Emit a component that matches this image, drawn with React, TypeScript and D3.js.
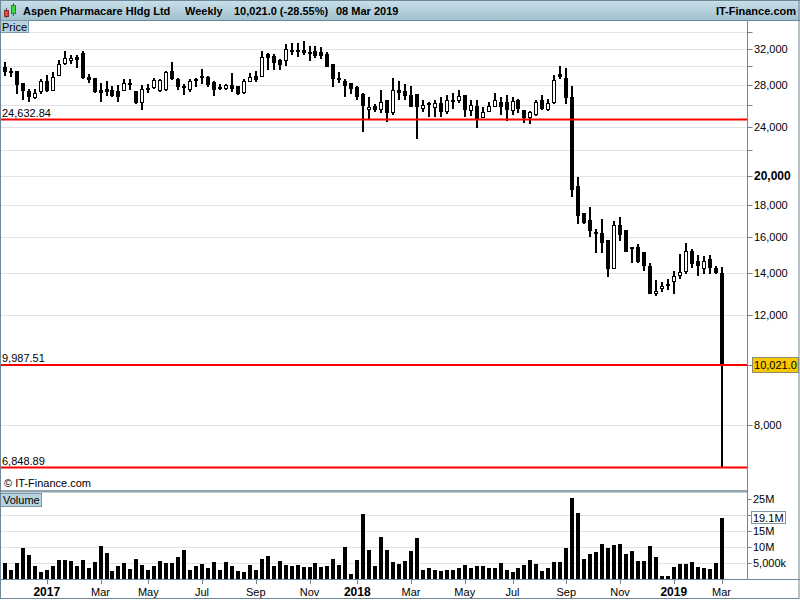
import React from "react";
import * as d3 from "d3";

const opens = [29900,29490,29490,28200,27360,26700,27300,28400,27400,28950,30220,30580,31060,31420,28800,28700,27500,27600,27430,27360,27380,28000,27360,26150,27650,27700,27370,27430,29500,28600,27830,27430,28400,28700,28800,28270,27800,27600,27930,27830,27140,28270,28960,28800,31330,31150,30650,30550,31550,31550,31850,31630,31700,31550,31400,30230,28740,28420,28180,27750,27050,25550,25900,25550,26450,25200,27500,27330,26940,27050,25640,26150,25740,26150,25320,26520,26380,26940,25440,25900,24770,25320,25850,26300,26300,25420,26520,25500,24770,25050,26450,25500,26200,29100,28740,26800,19260,17450,17050,16300,16250,15800,14200,16690,16390,15390,15390,15160,14350,12980,13200,13430,13550,13870,14050,15190,14650,14230,14750,14280,14030];
const highs = [30500,29800,29500,28200,27600,27600,28650,29000,29400,30650,31700,31200,31300,31700,29100,28750,28200,28400,27850,28000,28600,28600,27360,28000,28100,28750,28600,29500,30400,28750,28100,28600,28750,29700,28900,28400,28100,28100,29250,27830,28600,29250,29500,31700,31500,31400,30800,32500,32600,32600,32900,32300,32300,32200,31600,30230,29300,28600,28200,27850,27150,26800,26100,27430,26500,28700,28400,28100,27900,27050,26450,26300,26450,26800,27000,27150,27450,26940,26450,26450,25850,26300,27150,26800,26940,26800,26600,25550,25400,26450,27000,26600,29000,30000,29800,27900,19930,17470,17880,16450,17100,15800,16940,17190,16390,15390,15600,15160,14530,13640,13550,13700,14130,15000,15650,15330,14970,14900,14970,14400,14310];
const lows = [28900,28850,27100,26500,26300,26600,27100,27300,27350,28880,30100,30220,29800,28600,28200,27200,26300,26900,26750,26300,27380,27500,26100,25500,27200,27600,27300,27350,28500,27450,26950,27300,27800,28100,27800,26900,27430,27500,27300,27000,27050,28270,28250,28800,29550,29550,29550,30000,31200,31000,31200,30600,30900,30800,29900,27750,28200,26770,27050,26500,23500,24700,25350,25200,24400,25100,26450,26450,25800,22950,25300,24850,24850,24850,25150,25600,26150,24900,24950,23900,24770,25300,25800,25100,24550,25100,25200,24300,24200,24950,25550,25450,26100,28650,26050,18500,16750,16800,16000,15100,15100,13800,14200,15760,15160,14550,14550,14130,12980,12850,13050,13150,12950,13720,13980,14260,13870,13970,13970,13950,6848.89];
const closes = [29400,29200,27930,27380,26760,27200,28400,27400,28850,30220,30860,30930,30700,28720,28500,27270,27170,27300,26840,26760,28200,28200,26200,27600,27500,28450,28450,29300,28600,27800,27650,28400,28600,28960,27930,27430,27600,28020,27600,27040,28360,28800,28520,31060,30930,30370,30150,32000,31800,31800,31430,31330,31150,31150,29900,28650,28600,27830,27570,26800,25900,25800,25550,26250,25200,27500,27170,26870,25850,25830,25980,26050,26200,25320,26520,26400,26840,25560,26000,24600,25300,25900,26450,25850,25500,26380,25600,24770,25300,26300,25600,26200,28500,28800,26720,19000,17300,16850,16350,16180,15630,14200,16690,16090,15160,15330,14600,14400,12980,13130,13380,13360,13870,14050,15210,14480,14360,14650,14280,14025,10021];
const volumesM = [5.0,2.9,5.0,9.7,7.6,4.2,2.3,3.1,4.2,6.0,6.0,5.7,4.2,6.0,3.7,5.4,10.4,8.3,2.6,4.2,5.0,3.4,6.3,4.5,2.9,4.2,5.7,5.0,5.0,6.9,9.1,2.9,4.2,4.8,3.7,5.4,2.9,5.4,4.2,2.6,2.3,4.4,2.9,6.3,7.3,4.2,5.7,4.5,4.2,4.5,3.8,3.8,5.2,3.9,4.2,6.3,4.5,10.0,1.7,6.0,20.4,9.3,4.2,13.1,9.1,5.4,4.8,5.7,8.8,12.8,3.1,3.7,2.9,2.7,2.9,3.1,3.7,4.4,3.5,4.2,4.2,3.5,3.7,5.0,3.1,2.2,3.5,4.4,6.2,4.8,2.5,3.5,5.4,5.4,9.7,25.2,20.6,6.5,7.9,8.5,11.0,9.7,10.6,11.0,7.9,8.7,5.7,5.7,10.4,6.9,1.2,1.2,4.0,4.7,4.7,5.4,4.0,3.7,3.4,5.0,19.1];

const supportLevels = [24632.84, 9987.51, 6848.89];
const supportLabels = ["24,632.84", "9,987.51", "6,848.89"];
const priceGrid = [34000, 32000, 30000, 28000, 26000, 24000, 22000, 20000, 18000, 16000, 14000, 12000, 10000, 8000];
const priceLabelValues = [32000, 28000, 24000, 20000, 18000, 16000, 14000, 12000, 8000];
const volGrid = [5, 10, 15, 20];
const volTickValues = [5, 10, 15, 20, 25];
const volLabelValues = [5, 10, 15, 25];
const volLabelTexts = ["5,000k", "10M", "15M", "25M"];
const monthLabels = ["Jan", "Feb", "Mar", "Apr", "May", "Jun", "Jul", "Aug", "Sep", "Oct", "Nov", "Dec"];
const firstWeek = new Date(2016, 10, 14);
const lastClose = 10021.0;
const lastVolume = "19.1M";

const FONT = "'Liberation Sans', Arial, sans-serif";
const AXIS_X = 747.5;

export default function App() {
  const n = closes.length;
  const dates = d3.range(n).map((i) => d3.timeMonday.offset(firstWeek, i));
  const x = d3.scaleLinear().domain([0, n - 1]).range([5, 721.5]);
  const y = d3.scaleLog().domain([32000, 8000]).range([48.5, 425.3]);
  const yv = d3.scaleLinear().domain([0, 25]).range([579.5, 499]);
  const fmt = d3.format(",");

  const monthTicks: { i: number; label: string; bold: boolean }[] = [];
  dates.forEach((d, i) => {
    if (i === 0) return;
    const prev = dates[i - 1];
    if (d.getMonth() !== prev.getMonth() && d.getMonth() % 2 === 0) {
      monthTicks.push({
        i,
        label: d.getMonth() === 0 ? String(d.getFullYear()) : monthLabels[d.getMonth()],
        bold: d.getMonth() === 0,
      });
    }
  });

  return (
    <svg width={800} height={600} style={{ position: "absolute", left: 0, top: 0, display: "block", background: "#fff" }} fontFamily={FONT}>
      <defs>
        <linearGradient id="hdr" x1="0" y1="0" x2="0" y2="1">
          <stop offset="0" stopColor="#c9e1ea" />
          <stop offset="1" stopColor="#a2c1cf" />
        </linearGradient>
      </defs>
      <rect x={0} y={0} width={800} height={600} fill="#fff" />
      {/* header */}
      <rect x={0} y={0} width={800} height={20} fill="url(#hdr)" />
      <line x1={0} x2={800} y1={0.5} y2={0.5} stroke="#6d8796" />
      <line x1={0} x2={800} y1={20.5} y2={20.5} stroke="#6d8796" />
      {/* icon */}
      <line x1={6.5} x2={6.5} y1={8} y2={18} stroke="#555" />
      <rect x={4.5} y={10.5} width={4} height={6} fill="#e84040" stroke="#803030" />
      <line x1={13.5} x2={13.5} y1={3} y2={16} stroke="#555" />
      <rect x={11.5} y={5.5} width={4} height={8} fill="#40d840" stroke="#308030" />
      <g fontSize={11} fontWeight="bold" fill="#000">
        <text x={23} y={15}>Aspen Pharmacare Hldg Ltd</text>
        <text x={185} y={15}>Weekly</text>
        <text x={234} y={15}>10,021.0 (-28.55%)</text>
        <text x={336} y={15}>08 Mar 2019</text>
        <text x={796} y={15} textAnchor="end">IT-Finance.com</text>
      </g>

      {/* price grid */}
      {priceGrid.map((p) => (
        <line key={p} x1={1} x2={AXIS_X} y1={Math.round(y(p)) + 0.5} y2={Math.round(y(p)) + 0.5} stroke="#e3e3e3" />
      ))}
      {/* volume grid */}
      {volGrid.map((v) => (
        <line key={v} x1={1} x2={AXIS_X} y1={Math.round(yv(v)) + 0.5} y2={Math.round(yv(v)) + 0.5} stroke="#e3e3e3" />
      ))}

      {/* candles */}
      {closes.map((c, i) => {
        const xc = Math.round(x(i));
        const o = opens[i];
        const up = c >= o;
        const top = Math.round(y(Math.max(o, c)));
        const bot = Math.round(y(Math.min(o, c)));
        const h = Math.max(2, bot - top);
        const hy = Math.round(y(highs[i]));
        const ly = Math.round(y(lows[i]));
        return (
          <g key={i}>
            <rect x={xc - 1} y={hy} width={2} height={Math.max(1, ly - hy)} fill="#000" />
            <rect x={xc - 2} y={top} width={4} height={h} fill="#000" />
            {up && h > 2 ? <rect x={xc - 1} y={top + 1} width={2} height={h - 2} fill="#fff" /> : null}
          </g>
        );
      })}

      {/* support lines */}
      {supportLevels.map((s, k) => (
        <g key={s}>
          <line x1={1} x2={AXIS_X} y1={y(s)} y2={y(s)} stroke="#ff0000" strokeWidth={2} />
          <text x={2} y={y(s) - 3} fontSize={11} fill="#000">{supportLabels[k]}</text>
        </g>
      ))}

      {/* volume bars */}
      {volumesM.map((v, i) => {
        const xc = Math.round(x(i));
        const t = Math.round(yv(v));
        return <rect key={i} x={xc - 2} y={t} width={4} height={Math.round(yv(0)) - t} fill="#000" />;
      })}

      <text x={4} y={487} fontSize={11} fill="#000">© IT-Finance.com</text>

      {/* panel separators */}
      <rect x={0} y={490} width={AXIS_X} height={2.5} fill="#8da3b0" />
      <line x1={0} x2={800} y1={579.5} y2={579.5} stroke="#6d8796" />
      {/* price label box */}
      <rect x={0.5} y={20.5} width={28} height={12} fill="#b7d3df" stroke="#7f98a8" />
      <text x={2} y={30.5} fontSize={11} fill="#000">Price</text>
      <rect x={0.5} y={493.5} width={41} height={13} fill="#b7d3df" stroke="#7f98a8" />
      <text x={3} y={504} fontSize={11} fill="#000">Volume</text>

      {/* right axis */}
      <line x1={AXIS_X} x2={AXIS_X} y1={21} y2={580} stroke="#6d8796" />
      {priceGrid.map((p) => (
        <line key={p} x1={AXIS_X} x2={AXIS_X + 5} y1={Math.round(y(p)) + 0.5} y2={Math.round(y(p)) + 0.5} stroke="#6d8796" />
      ))}
      {priceLabelValues.map((p) => (
        <text key={p} x={754} y={y(p) + 4} fontSize={p === 20000 ? 12 : 11} fontWeight={p === 20000 ? "bold" : "normal"} fill="#000">
          {fmt(p)}
        </text>
      ))}
      <rect x={752.5} y={357.5} width={46} height={15} fill="#f7c800" stroke="#8c8c6c" />
      <text x={775.5} y={369} fontSize={11} textAnchor="middle" fill="#000">{d3.format(",.1f")(lastClose)}</text>

      {volTickValues.map((v) => (
        <line key={v} x1={AXIS_X} x2={AXIS_X + 4} y1={Math.round(yv(v)) + 0.5} y2={Math.round(yv(v)) + 0.5} stroke="#6d8796" />
      ))}
      {volLabelValues.map((v, k) => (
        <text key={v} x={753} y={yv(v) + 4} fontSize={11} fill="#000">{volLabelTexts[k]}</text>
      ))}
      <rect x={751.5} y={511.5} width={34} height={12} fill="#fff" stroke="#7f98a8" />
      <text x={753} y={521.5} fontSize={11} fill="#000">{lastVolume}</text>

      {/* time axis */}
      {monthTicks.map((t) => (
        <g key={t.i}>
          <line x1={Math.round(x(t.i)) + 0.5} x2={Math.round(x(t.i)) + 0.5} y1={580} y2={584} stroke="#6d8796" />
          <text x={x(t.i)} y={596} fontSize={t.bold ? 12 : 11} fontWeight={t.bold ? "bold" : "normal"} textAnchor="middle" fill="#000">
            {t.label}
          </text>
        </g>
      ))}

      {/* frame */}
      <rect x={0.5} y={0.5} width={798.5} height={598} fill="none" stroke="#6d8796" />
    </svg>
  );
}
